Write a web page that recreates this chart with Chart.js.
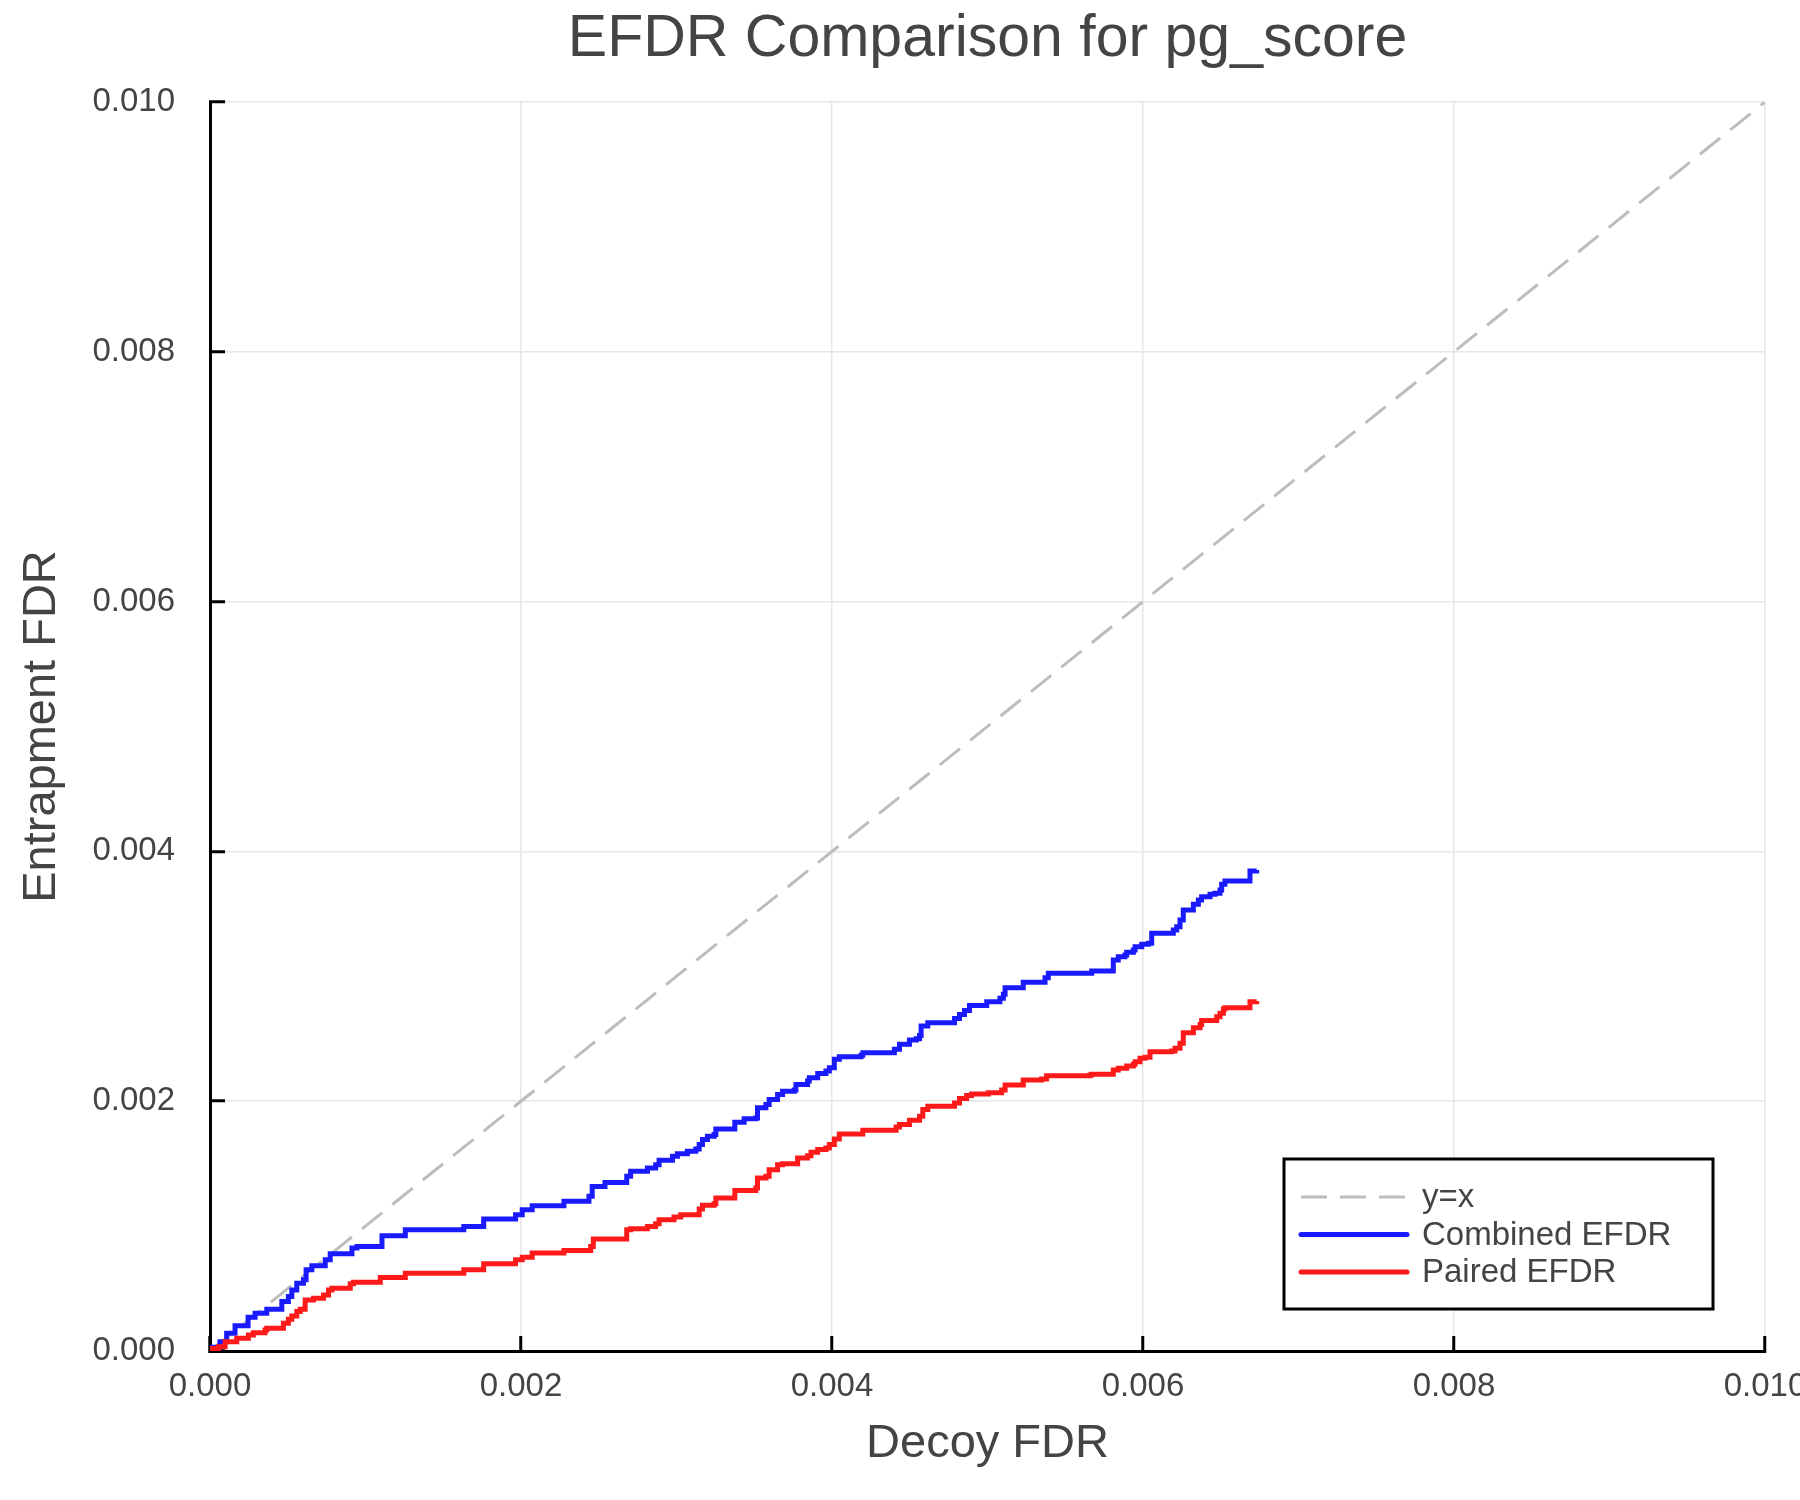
<!DOCTYPE html>
<html>
<head>
<meta charset="utf-8">
<title>EFDR Comparison for pg_score</title>
<script src="https://cdn.jsdelivr.net/npm/chart.js@4.4.1/dist/chart.umd.min.js"></script>
<style>
  html, body { margin: 0; padding: 0; background: #fff; }
  #wrap { width: 1800px; height: 1500px; }
</style>
</head>
<body>
<div id="wrap"><canvas id="efdrChart" width="1800" height="1500"></canvas></div>
<script>
// values
const combinedX = [0, 0.000064, 0.000107, 0.000161, 0.000245, 0.00029, 0.000365, 0.000462, 0.000504, 0.000526,
  0.000558, 0.000601, 0.000618, 0.000655, 0.000741, 0.000773, 0.000913, 0.000945, 0.001106, 0.001256,
  0.001632, 0.00176, 0.001965, 0.002008, 0.002072, 0.002276, 0.002437, 0.002458, 0.00254, 0.00268,
  0.002705, 0.002813, 0.002866, 0.002888, 0.002974, 0.003006, 0.00307, 0.003124, 0.003146, 0.003167,
  0.003199, 0.003242, 0.003253, 0.003375, 0.003435, 0.00351, 0.003521, 0.003575, 0.003596, 0.00365,
  0.003682, 0.003757, 0.003768, 0.003843, 0.003854, 0.003908, 0.003961, 0.003983, 0.004015, 0.004047,
  0.004187, 0.004198, 0.004401, 0.004434, 0.004498, 0.004541, 0.004563, 0.004573, 0.004616, 0.004788,
  0.00482, 0.004852, 0.004884, 0.004995, 0.00508, 0.005102, 0.005113, 0.00523, 0.00537, 0.005391,
  0.00567, 0.005809, 0.005841, 0.005884, 0.005895, 0.005938, 0.005949, 0.005992, 0.006034, 0.006056,
  0.006195, 0.006217, 0.006238, 0.006259, 0.006324, 0.006356, 0.006377, 0.006431, 0.006463, 0.006495,
  0.006506, 0.006527, 0.006688, 0.006731];
const combinedY = [0.00003, 0.000075, 0.000142, 0.000203, 0.00027, 0.000302, 0.000334, 0.000396, 0.000436, 0.000489,
  0.000543, 0.00057, 0.00065, 0.000682, 0.00073, 0.000778, 0.000824, 0.000837, 0.000923, 0.000971,
  0.000997, 0.001057, 0.001091, 0.001131, 0.001163, 0.001198, 0.001238, 0.001318, 0.00135, 0.001399,
  0.001439, 0.001466, 0.001492, 0.001527, 0.001559, 0.00158, 0.001599, 0.001618, 0.001653, 0.001693,
  0.00172, 0.001733, 0.001778, 0.001832, 0.001859, 0.001866, 0.001947, 0.001974, 0.002014, 0.002054,
  0.00208, 0.002089, 0.002134, 0.002161, 0.002187, 0.002222, 0.002241, 0.002268, 0.002335, 0.002356,
  0.002367, 0.002388, 0.002415, 0.002455, 0.00249, 0.0025, 0.002527, 0.002602, 0.002629, 0.002662,
  0.002695, 0.002726, 0.002766, 0.002797, 0.002824, 0.002856, 0.002909, 0.002952, 0.002989, 0.003024,
  0.003042, 0.00313, 0.003157, 0.003171, 0.003192, 0.00321, 0.003237, 0.003256, 0.003264, 0.003344,
  0.003371, 0.003397, 0.003451, 0.003531, 0.003576, 0.003611, 0.003637, 0.003656, 0.003664, 0.003691,
  0.003736, 0.003763, 0.003843, 0.003851];

const pairedX = [0, 0.000054, 0.000097, 0.000172, 0.000247, 0.000279, 0.000354, 0.000365, 0.000472, 0.000504,
  0.000526, 0.000558, 0.00058, 0.000612, 0.000666, 0.00073, 0.000762, 0.000784, 0.000902, 0.000923,
  0.001095, 0.001256, 0.001632, 0.00176, 0.001965, 0.002008, 0.002072, 0.002276, 0.002448, 0.002465,
  0.00268, 0.002705, 0.002813, 0.002866, 0.002888, 0.002984, 0.003027, 0.003146, 0.003167, 0.003242,
  0.003253, 0.003375, 0.00351, 0.003521, 0.003575, 0.003596, 0.00365, 0.003682, 0.003779, 0.003843,
  0.003865, 0.003908, 0.003961, 0.003983, 0.004015, 0.004047, 0.004198, 0.004412, 0.004434, 0.004498,
  0.004563, 0.004584, 0.004616, 0.004788, 0.00482, 0.004866, 0.004898, 0.005005, 0.005091, 0.005113,
  0.00523, 0.005348, 0.00538, 0.005659, 0.00567, 0.005809, 0.005841, 0.005895, 0.005938, 0.005949,
  0.005981, 0.006013, 0.006045, 0.006184, 0.006206, 0.006238, 0.006259, 0.006324, 0.006367, 0.006377,
  0.006474, 0.006495, 0.006517, 0.006527, 0.006688, 0.006731];
const pairedY = [0.000021, 0.000035, 0.000075, 0.000102, 0.000128, 0.000147, 0.000168, 0.000182, 0.000222, 0.000254,
  0.000281, 0.000316, 0.000334, 0.000409, 0.000423, 0.000449, 0.000489, 0.000503, 0.000538, 0.000551,
  0.000588, 0.000623, 0.00065, 0.000698, 0.00073, 0.000751, 0.000784, 0.000805, 0.000837, 0.000896,
  0.000971, 0.000979, 0.000997, 0.001019, 0.001051, 0.001072, 0.001091, 0.001136, 0.001166, 0.001179,
  0.001225, 0.001286, 0.001305, 0.001385, 0.001399, 0.001452, 0.001492, 0.0015, 0.001546, 0.001564,
  0.001591, 0.001613, 0.001626, 0.001653, 0.001698, 0.001738, 0.001768, 0.001794, 0.001813, 0.001848,
  0.00188, 0.001933, 0.00196, 0.001985, 0.002021, 0.002045, 0.002058, 0.002068, 0.00209, 0.00213,
  0.00217, 0.002178, 0.002204, 0.00221, 0.002215, 0.00225, 0.002263, 0.002282, 0.002295, 0.002316,
  0.002343, 0.002351, 0.002396, 0.002402, 0.002423, 0.002463, 0.002549, 0.002589, 0.002615, 0.002647,
  0.002677, 0.002704, 0.002738, 0.002749, 0.002797, 0.002802];

const refX = [0, 0.01];
const refY = [0, 0.01];

const tickValues = [0, 0.002, 0.004, 0.006, 0.008, 0.010];
const tickLabels = ['0.000', '0.002', '0.004', '0.006', '0.008', '0.010'];

const FONT = "'Liberation Sans', Arial, Helvetica, sans-serif";
const TEXT = '#444444';

function toPoints(xs, ys) {
    return xs.map((x, i) => ({ x: x, y: ys[i] }));
}

// boxed legend in the lower right corner, like the original
const boxLegend = {
    id: 'boxLegend',
    afterDatasetsDraw(chart) {
        const ctx = chart.ctx;
        const area = chart.chartArea;
        const left = area.right - 481;
        const top = area.bottom - 192;
        const w = 429, h = 150;
        ctx.save();
        ctx.fillStyle = '#ffffff';
        ctx.fillRect(left, top, w, h);
        ctx.lineWidth = 3;
        ctx.strokeStyle = '#000000';
        ctx.strokeRect(left, top, w, h);
        ctx.font = '33px ' + FONT;
        ctx.textBaseline = 'middle';
        chart.data.datasets.forEach((ds, i) => {
            const y = top + 38 + i * 37.5;
            ctx.beginPath();
            ctx.setLineDash(ds.borderDash || []);
            ctx.lineCap = ds.borderDash ? 'butt' : 'round';
            ctx.strokeStyle = ds.borderColor;
            ctx.lineWidth = ds.borderWidth;
            ctx.moveTo(left + 17, y);
            ctx.lineTo(left + 123, y);
            ctx.stroke();
            ctx.setLineDash([]);
            ctx.fillStyle = TEXT;
            ctx.fillText(ds.label, left + 138, y + 1);
        });
        ctx.restore();
    }
};

function axisTicks(scale) {
    scale.ticks = tickValues.map(v => ({ value: v }));
}

const ctx = document.getElementById('efdrChart').getContext('2d');
new Chart(ctx, {
    type: 'line',
    data: {
        datasets: [
            {
                label: 'y=x',
                data: toPoints(refX, refY),
                borderColor: '#bdbdbd',
                borderWidth: 3,
                borderDash: [26, 13],
                pointRadius: 0,
                fill: false,
                order: 3
            },
            {
                label: 'Combined EFDR',
                data: toPoints(combinedX, combinedY),
                borderColor: '#1a1aff',
                borderWidth: 5,
                stepped: 'before',
                pointRadius: 0,
                fill: false,
                order: 2
            },
            {
                label: 'Paired EFDR',
                data: toPoints(pairedX, pairedY),
                borderColor: '#ff1a1a',
                borderWidth: 5,
                stepped: 'before',
                pointRadius: 0,
                fill: false,
                order: 1
            }
        ]
    },
    options: {
        responsive: false,
        devicePixelRatio: 1,
        animation: false,
        layout: { padding: { left: 0, right: 35, top: 0, bottom: 0 } },
        plugins: {
            legend: { display: false },
            tooltip: { enabled: false },
            title: {
                display: true,
                fullSize: false,
                text: 'EFDR Comparison for pg_score',
                color: TEXT,
                font: { family: FONT, size: 59, weight: 'normal', lineHeight: 64 / 59 },
                padding: { top: 8, bottom: 30 }
            }
        },
        scales: {
            x: {
                type: 'linear',
                min: 0,
                max: 0.01,
                afterBuildTicks: axisTicks,
                afterFit(scale) {
                    scale.height = 149;
                    scale.paddingLeft = 0;
                    scale.paddingRight = 0;
                },
                border: { display: true, color: '#000000', width: 3 },
                grid: {
                    color: '#e6e6e6',
                    lineWidth: 1.5,
                    tickColor: '#000000',
                    tickWidth: 3,
                    tickLength: -15
                },
                ticks: {
                    autoSkip: false,
                    maxRotation: 0,
                    padding: 31,
                    color: TEXT,
                    font: { family: FONT, size: 33 },
                    callback: (v, i) => tickLabels[i]
                },
                title: {
                    display: true,
                    text: 'Decoy FDR',
                    color: TEXT,
                    font: { family: FONT, size: 47 },
                    padding: { top: 0, bottom: 28 }
                }
            },
            y: {
                type: 'linear',
                min: 0,
                max: 0.01,
                afterBuildTicks: axisTicks,
                afterFit(scale) {
                    scale.width = 210;
                    scale.paddingTop = 0;
                    scale.paddingBottom = 0;
                },
                border: { display: true, color: '#000000', width: 3 },
                grid: {
                    color: '#e6e6e6',
                    lineWidth: 1.5,
                    tickColor: '#000000',
                    tickWidth: 3,
                    tickLength: -15
                },
                ticks: {
                    autoSkip: false,
                    padding: 50,
                    color: TEXT,
                    font: { family: FONT, size: 33 },
                    callback: (v, i) => tickLabels[i]
                },
                title: {
                    display: true,
                    text: 'Entrapment FDR',
                    color: TEXT,
                    font: { family: FONT, size: 47 },
                    padding: { top: 14, bottom: 0 }
                }
            }
        }
    },
    plugins: [boxLegend]
});
</script>
</body>
</html>
